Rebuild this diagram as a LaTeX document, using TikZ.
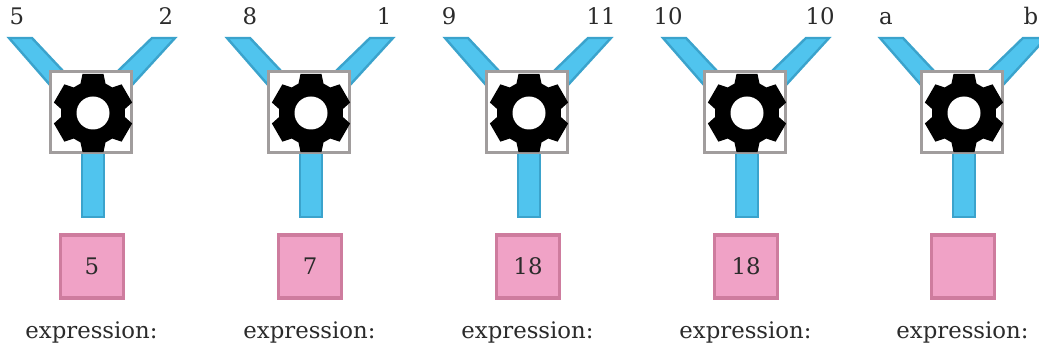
\documentclass[tikz,border=0pt]{standalone}
\usepackage{fontspec}
\setmainfont{DejaVu Serif}
\definecolor{bandfill}{HTML}{50C4EE}
\definecolor{bandedge}{HTML}{3BA3CC}
\definecolor{pinkfill}{HTML}{F0A2C6}
\definecolor{pinkedge}{HTML}{CE7C9E}
\definecolor{boxedge}{HTML}{A19D9D}
\definecolor{inktext}{HTML}{2B2B2B}
\tikzset{
  band/.style={fill=bandfill,draw=bandedge,line width=2.4pt,line join=miter},
  gearbox/.style={draw=boxedge,fill=white,line width=3.6pt,minimum size=81pt,inner sep=0pt,outer sep=0pt},
  resultbox/.style={draw=pinkedge,fill=pinkfill,line width=3.4pt,minimum size=63pt,inner sep=0pt,text=inktext,font=\fontsize{22.8}{26}\selectfont},
  lab/.style={font=\fontsize{22.8}{26}\selectfont,inner sep=0pt,text=inktext,anchor=base},
  gearshape/.style={fill=black,line join=round}
}
\begin{document}
\begin{tikzpicture}[x=1pt,y=-1pt]
\useasboundingbox (0,0) rectangle (1039,347);
\foreach \i/\cx/\lx/\rx/\ltxt/\rtxt/\res in {1/91/17/166/5/2/5,2/309/250/384/8/1/7,3/527/449/601/9/11/18,4/745/668/820/10/10/18,5/962/886/1031/a/b/{}}{
  \begin{scope}[xshift=\cx pt]
    \draw[band] (-82,38) -- (-59,38) -- (-28,71) -- (-41,85) -- cycle;
    \draw[band] (84,38) -- (61,38) -- (27,71) -- (41,85) -- cycle;
    \draw[band] (-9,153) rectangle (13,217);
    \node[gearbox] (box\i) at (0,112) {};
    \begin{scope}[shift={(2,113)}]
      \fill[gearshape] (113:32)
        \foreach \a in {90,30,-30,-90,-150,-210}{
          -- (\a+23:32) -- (\a+15:40.5) -- (\a-15:40.5) -- (\a-23:32)
        } -- cycle;
      \fill[white] (0,0) circle[radius=16.5];
    \end{scope}
    \node[resultbox] (res\i) at (1,266.5) {\res};
    \node[lab] (expr\i) at (0.5,338) {expression:};
  \end{scope}
  \node[lab] (left\i) at (\lx,25) {\ltxt};
  \node[lab] (right\i) at (\rx,25) {\rtxt};
}
\end{tikzpicture}
\end{document}
